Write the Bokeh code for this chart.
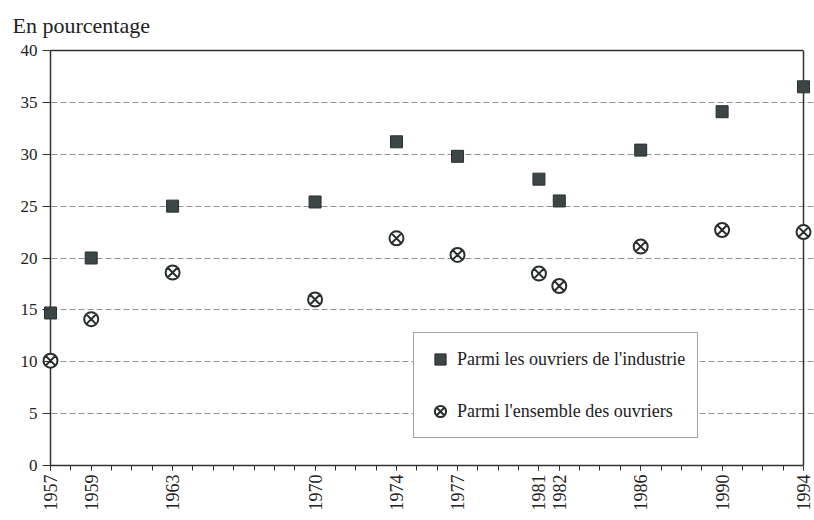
from bokeh.plotting import figure
from bokeh.models import Range1d, FixedTicker, Grid, Legend, LegendItem, ColumnDataSource, LinearAxis
from bokeh.embed import file_html
from bokeh.resources import INLINE
import math

years = [1957, 1959, 1963, 1970, 1974, 1977, 1981, 1982, 1986, 1990, 1994]
industrie = [14.7, 20.0, 25.0, 25.4, 31.2, 29.8, 27.6, 25.5, 30.4, 34.1, 36.5]
ensemble = [10.1, 14.1, 18.6, 16.0, 21.9, 20.3, 18.5, 17.3, 21.1, 22.7, 22.5]
y_ticks = [0, 5, 10, 15, 20, 25, 30, 35, 40]
label_industrie = "Parmi les ouvriers de l'industrie"
label_ensemble = "Parmi l'ensemble des ouvriers"
title_text = "En pourcentage"

FONT = "Liberation Serif"
DARK = "#2e3232"
TXT = "#222222"

p = figure(width=814, height=520, output_backend="svg", toolbar_location=None,
           x_range=Range1d(1956.607, 1994.54), y_range=Range1d(0, 40),
           min_border_left=42, min_border_right=0, min_border_top=50, min_border_bottom=55)
p.outline_line_color = None
p.background_fill_color = "white"
p.border_fill_color = "white"

p.title.text = title_text
p.title.text_font = FONT
p.title.text_font_size = "22px"
p.title.text_font_style = "normal"
p.title.align = "left"
p.title.vertical_align = "top"
p.title.offset = -30
p.title.standoff = 22
p.title.text_color = TXT

# bottom axis
xa = p.xaxis[0]
xa.ticker = FixedTicker(ticks=years, minor_ticks=list(range(1957, 1995)))
xa.bounds = (1957, 1994)
xa.major_label_orientation = math.pi / 2
xa.major_label_text_font = FONT
xa.major_label_text_font_size = "18px"
xa.major_label_text_color = TXT
xa.major_tick_out = 5
xa.major_tick_in = 0
xa.minor_tick_out = 5
xa.minor_tick_in = 0
xa.axis_line_color = DARK
xa.axis_line_width = 1.5
xa.major_tick_line_color = DARK
xa.minor_tick_line_color = DARK
xa.major_label_standoff = 4

# left axis (labels + ticks); its line is drawn by a grid line at the first year
ya = p.yaxis[0]
ya.ticker = FixedTicker(ticks=y_ticks, minor_ticks=[])
ya.major_label_text_font = FONT
ya.major_label_text_font_size = "17px"
ya.major_label_text_color = TXT
ya.major_tick_out = 0
ya.major_tick_in = 8
ya.axis_line_color = None
ya.major_tick_line_color = DARK
ya.major_tick_line_width = 1
ya.major_label_standoff = 5

# top border as an axis with only its line
top_axis = LinearAxis(ticker=FixedTicker(ticks=[], minor_ticks=[]), bounds=(1957, 1994),
                      major_label_text_font_size="0px", axis_line_color=DARK, axis_line_width=1.5,
                      major_tick_line_color=None, minor_tick_line_color=None)
p.add_layout(top_axis, "above")

# grids
p.xgrid.visible = False
p.ygrid.ticker = FixedTicker(ticks=y_ticks[1:-1])
p.ygrid.bounds = (1957, 1994)
p.ygrid.grid_line_color = "#909090"
p.ygrid.grid_line_dash = "6 3"
p.ygrid.grid_line_width = 1

left_line = Grid(dimension=0, ticker=FixedTicker(ticks=[years[0]]), bounds=(0, 40),
                 grid_line_color=DARK, grid_line_width=1.5)
right_line = Grid(dimension=0, ticker=FixedTicker(ticks=[years[-1]]), bounds=(0, 40),
                  grid_line_color=DARK, grid_line_width=1.5)
p.add_layout(left_line)
p.add_layout(right_line)

src = ColumnDataSource(dict(year=years, industrie=industrie, ensemble=ensemble))
r1 = p.scatter("year", "industrie", source=src, marker="square", size=12,
               fill_color="#3c4646", line_color="#2a3030", line_width=1)
r2 = p.scatter("year", "ensemble", source=src, marker="circle_x", size=14,
               fill_color="white", line_color="#2a2e2e", line_width=2)

legend = Legend(items=[LegendItem(label=label_industrie, renderers=[r1]),
                       LegendItem(label=label_ensemble, renderers=[r2])],
                location=(371, 27), orientation="vertical",
                label_text_font=FONT, label_text_font_size="18px", label_text_color=TXT,
                glyph_width=28, glyph_height=28, label_height=28, label_standoff=3,
                spacing=24, padding=12, border_line_color="#444848", border_line_width=1.5,
                background_fill_color="white", background_fill_alpha=1)
p.add_layout(legend, "center")

open("out.html", "w").write(file_html(p, INLINE))
